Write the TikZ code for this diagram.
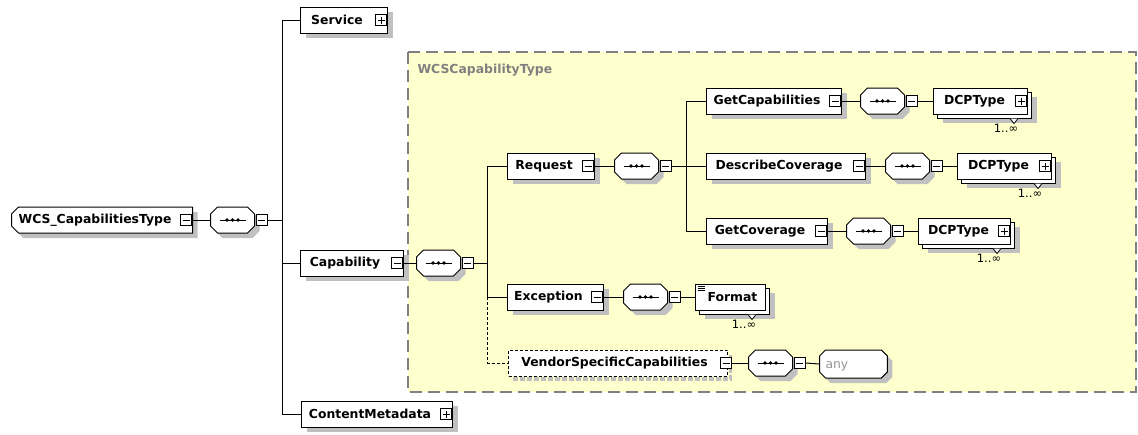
\documentclass[tikz,border=0pt]{standalone}
\usepackage{fontspec}
\setmainfont{DejaVu Sans}
\usepackage{tikz}
\usetikzlibrary{shapes.misc,shadows}

\definecolor{schemayellow}{RGB}{255,255,206}
\definecolor{shadowgray}{RGB}{192,192,192}
\definecolor{framegray}{RGB}{128,128,128}
\definecolor{anygray}{RGB}{150,150,150}

\begin{document}
\begin{tikzpicture}[x=1pt, y=-1pt, line width=1pt,
    boxbase/.style={draw, fill=white, minimum height=26pt, inner sep=0pt, anchor=west,
      font=\fontsize{12.4}{14}\selectfont\bfseries},
    pad/.style={execute at end node={\hspace*{#1}}},
    elem/.style={boxbase, pad=14pt, drop shadow={shadow xshift=5pt, shadow yshift=-5pt, fill=shadowgray, draw=none, opacity=1}},
    multi/.style={boxbase,
      drop shadow={shadow xshift=9pt, shadow yshift=-9pt, fill=shadowgray, draw=none, opacity=1},
      copy shadow={shadow xshift=4pt, shadow yshift=-4pt}},
    octa/.style={chamfered rectangle, chamfered rectangle xsep=3.5pt, chamfered rectangle ysep=3.5pt,
      draw, fill=white, inner sep=0pt, anchor=west,
      drop shadow={shadow xshift=5pt, shadow yshift=-5pt, fill=shadowgray, draw=none, opacity=1}},
    seq/.style={octa, execute at begin node={\hspace*{37pt}\rule[-9.5pt]{0pt}{19pt}}},
    minus/.style={draw, fill=white, line width=0.8pt, minimum width=11pt, minimum height=11pt, inner sep=0pt,
      path picture={\draw[line width=0.8pt] ([xshift=2pt]path picture bounding box.west) -- ([xshift=-2pt]path picture bounding box.east);}},
    plus/.style={draw, fill=white, line width=0.8pt, minimum width=11pt, minimum height=11pt, inner sep=0pt,
      path picture={\draw[line width=0.8pt] ([xshift=2pt]path picture bounding box.west) -- ([xshift=-2pt]path picture bounding box.east);
        \draw[line width=0.8pt] ([yshift=-2pt]path picture bounding box.north) -- ([yshift=2pt]path picture bounding box.south);}},
    card/.style={font=\fontsize{11.5}{13}\selectfont, inner sep=0pt}]
  \useasboundingbox (0,0) rectangle (1138,434);

  % complex type frame
  \draw[fill=schemayellow, draw=framegray, line width=1.3pt, dash pattern=on 12pt off 6pt] (408,52) rectangle (1136,392);
  \node[anchor=west, text=framegray, font=\fontsize{12.4}{14}\selectfont\bfseries, inner sep=0pt] (typename) at (417,70) {WCSCapabilityType};

  % root element
  \node[elem, chamfered rectangle, chamfered rectangle corners={north west,south west},
    chamfered rectangle xsep=3.5pt, chamfered rectangle ysep=3.5pt, minimum width=181pt] (root) at (11,220) {WCS\_CapabilitiesType};
  \node[minus, anchor=east] (rootm) at ([xshift=-1pt]root.east) {};
  \node[seq] (c0) at (210,220) {};
  \node[minus, anchor=west] (c0m) at ([xshift=1pt]c0.east) {};
  \draw (rootm.east) -- (c0.west);
  \draw (c0m.east) -- ++(15,0) coordinate (t0);

  % children of the root
  \node[elem, minimum width=87pt] (service) at (300,20) {Service};
  \node[plus, anchor=east] (servicep) at ([xshift=-1pt]service.east) {};
  \node[elem, minimum width=103pt] (capability) at (300,263) {Capability};
  \node[minus, anchor=east] (capabilitym) at ([xshift=-1pt]capability.east) {};
  \node[elem, minimum width=151pt] (content) at (301,414) {ContentMetadata};
  \node[plus, anchor=east] (contentp) at ([xshift=-1pt]content.east) {};
  \draw (t0) |- (service.west);
  \draw (t0) |- (capability.west);
  \draw (t0) |- (content.west);

  % Capability sequence
  \node[seq] (c1) at (416,263) {};
  \node[minus, anchor=west] (c1m) at ([xshift=1pt]c1.east) {};
  \draw (capabilitym.east) -- (c1.west);
  \draw (c1m.east) -- ++(14,0) coordinate (t1);

  % Request
  \node[elem, minimum width=87pt] (request) at (507,166) {Request};
  \node[minus, anchor=east] (requestm) at ([xshift=-1pt]request.east) {};
  \node[seq] (c2) at (614,166) {};
  \node[minus, anchor=west] (c2m) at ([xshift=1pt]c2.east) {};
  \draw (t1) |- (request.west);
  \draw (requestm.east) -- (c2.west);
  \draw (c2m.east) -- ++(15,0) coordinate (t2);

  % operations
  \node[elem, minimum width=135pt] (getcap) at (706,101) {GetCapabilities};
  \node[minus, anchor=east] (getcapm) at ([xshift=-1pt]getcap.east) {};
  \node[seq] (c3) at (860,101) {};
  \node[minus, anchor=west] (c3m) at ([xshift=1pt]c3.east) {};
  \node[multi, pad=12pt, minimum width=94pt] (dcpa) at (933,101) {DCPType};
  \node[plus, anchor=east] (dcpap) at ([xshift=-1pt]dcpa.east) {};

  \node[elem, minimum width=159pt] (desccov) at (706,166) {DescribeCoverage};
  \node[minus, anchor=east] (desccovm) at ([xshift=-1pt]desccov.east) {};
  \node[seq] (c4) at (885,166) {};
  \node[minus, anchor=west] (c4m) at ([xshift=1pt]c4.east) {};
  \node[multi, pad=12pt, minimum width=94pt] (dcpb) at (957,166) {DCPType};
  \node[plus, anchor=east] (dcpbp) at ([xshift=-1pt]dcpb.east) {};

  \node[elem, minimum width=121pt] (getcov) at (706,231) {GetCoverage};
  \node[minus, anchor=east] (getcovm) at ([xshift=-1pt]getcov.east) {};
  \node[seq] (c5) at (846,231) {};
  \node[minus, anchor=west] (c5m) at ([xshift=1pt]c5.east) {};
  \node[multi, pad=12pt, minimum width=92pt] (dcpc) at (918,231) {DCPType};
  \node[plus, anchor=east] (dcpcp) at ([xshift=-1pt]dcpc.east) {};

  \draw (t2) |- (getcap.west);
  \draw (t2) |- (desccov.west);
  \draw (t2) |- (getcov.west);
  \draw (getcapm.east) -- (c3.west);
  \draw (c3m.east) -- (dcpa.west);
  \draw (desccovm.east) -- (c4.west);
  \draw (c4m.east) -- (dcpb.west);
  \draw (getcovm.east) -- (c5.west);
  \draw (c5m.east) -- (dcpc.west);

  % Exception
  \node[elem, minimum width=96pt] (exception) at (507,297) {Exception};
  \node[minus, anchor=east] (exceptionm) at ([xshift=-1pt]exception.east) {};
  \node[seq] (c6) at (623,297) {};
  \node[minus, anchor=west] (c6m) at ([xshift=1pt]c6.east) {};
  \node[multi, minimum width=70pt] (format) at (695,297) {\hspace*{4pt}Format};
  \foreach \k in {3,5,7}
    \draw[line width=0.6pt] ([xshift=3pt,yshift=-\k pt]format.north west) -- ++(7,0);
  \draw (t1) |- (exception.west);
  \draw (exceptionm.east) -- (c6.west);
  \draw (c6m.east) -- (format.west);

  % VendorSpecificCapabilities (optional)
  \node[boxbase, pad=7pt, dash pattern=on 3pt off 2pt, minimum width=219pt] (vendor) at (508,363) {VendorSpecificCapabilities};
  \draw[shadowgray, line width=3.5pt, dash pattern=on 5pt off 2pt]
    ([xshift=5pt,yshift=-2.5pt]vendor.south west) -| ([xshift=2.5pt,yshift=-5pt]vendor.north east);
  \node[minus, anchor=east] (vendorm) at ([xshift=4pt]vendor.east) {};
  \node[seq] (c7) at (748,363) {};
  \node[minus, anchor=west] (c7m) at ([xshift=1pt]c7.east) {};
  \node[octa, chamfered rectangle xsep=3pt, chamfered rectangle ysep=3pt, text=anygray,
    font=\fontsize{12.4}{14}\selectfont] (any) at (819,364) {\rule[-7pt]{0pt}{22pt}\hspace*{3pt}any\hspace*{36pt}};
  \draw[dash pattern=on 3pt off 2pt] (exception.west -| t1) |- (vendor.west);
  \draw (vendorm.east) -- (c7.west);
  \draw (c7m.east) -- (any.west);

  % sequence marks
  \foreach \i in {0,...,7}{
    \draw ([xshift=-13pt]c\i.center) -- ([xshift=13pt]c\i.center);
    \foreach \d in {-5.5,0,5.5}
      \fill ([xshift=\d pt]c\i.center) circle (1.8);
  }

  % occurrence marks
  \foreach \n in {dcpa,dcpb,dcpc,format}{
    \draw[line width=0.8pt, fill=white] ([xshift=-18pt,yshift=-4pt]\n.south east) -- ++(4,5) -- ++(4,-5);
    \node[card] (\n-card) at ([xshift=-22pt,yshift=-14pt]\n.south east) {1..∞};
  }
\end{tikzpicture}
\end{document}
